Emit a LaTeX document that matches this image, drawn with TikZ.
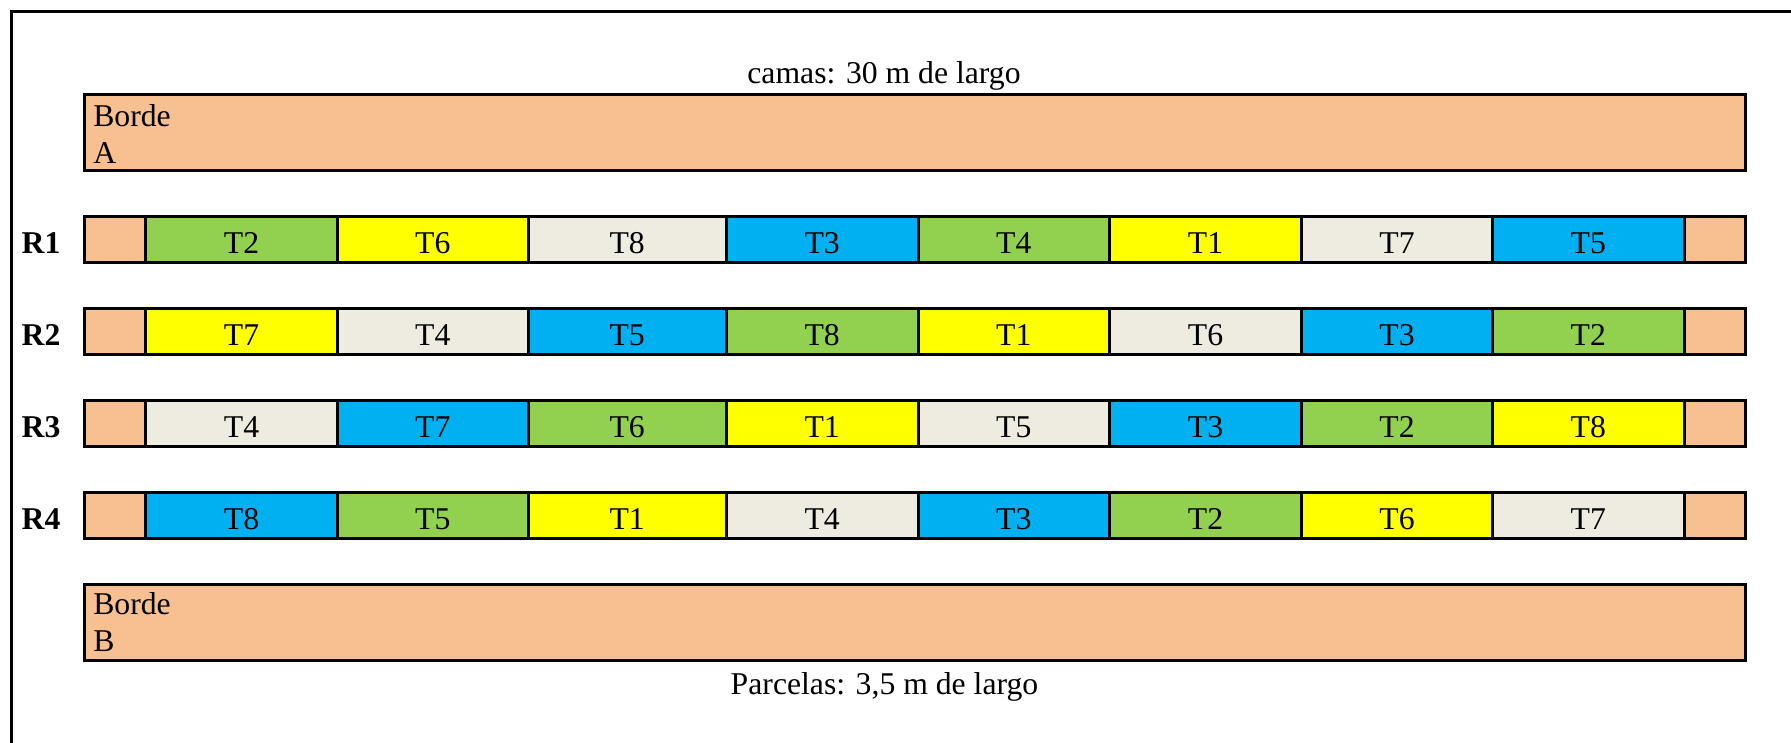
\documentclass[tikz,border=0pt]{standalone}
\usepackage{fontspec}
\setmainfont{Liberation Serif}
\definecolor{borde}{HTML}{F8C090}
\definecolor{grn}{HTML}{92D050}
\definecolor{yel}{HTML}{FFFF00}
\definecolor{bei}{HTML}{EEECE1}
\definecolor{blu}{HTML}{00B0F0}
\begin{document}
\begin{tikzpicture}[x=1pt,y=-1pt,
  txt/.style={font=\fontsize{31.7}{38}\selectfont},
  cell/.style={txt, draw=black, line width=3pt, inner sep=0pt, outer sep=0pt,
    anchor=north west, minimum height=46pt, text height=28pt, text depth=0pt},
  bigbox/.style={draw=black, fill=borde, line width=3pt, inner sep=0pt, outer sep=0pt,
    anchor=north west, minimum width=1661pt},
  plain/.style={txt, inner sep=0pt, outer sep=0pt},
  rlabel/.style={plain, font=\fontsize{31.7}{38}\selectfont\bfseries, anchor=base west},
]
\useasboundingbox (0,0) rectangle (1791,743);
% frame (cut off at right and bottom)
\coordinate (fbl) at (11.3,750);
\coordinate (ftl) at (11.3,11.7);
\coordinate (ftr) at (1800,11.7);
\draw[line width=3pt] (fbl) -- (ftl) -- (ftr);

\node[plain, anchor=base] (camas) at (884,83.5) {camas: 30 m de largo};

\node[bigbox, minimum height=76pt] (bordeA) at (84,95) {};
\node[plain, anchor=base west] (bordeAt1) at (93.3,126.5) {Borde};
\node[plain, anchor=base west] (bordeAt2) at (93.3,163.2) {A};

\def\xs{{84,145.7,337.3,528.3,726,918.3,1109.3,1301.7,1492.3,1684.3,1745}}
\foreach \r/\y/\cells in {
  1/216.3/{T2/grn,T6/yel,T8/bei,T3/blu,T4/grn,T1/yel,T7/bei,T5/blu},
  2/308.4/{T7/yel,T4/bei,T5/blu,T8/grn,T1/yel,T6/bei,T3/blu,T2/grn},
  3/400.5/{T4/bei,T7/blu,T6/grn,T1/yel,T5/bei,T3/blu,T2/grn,T8/yel},
  4/492.6/{T8/blu,T5/grn,T1/yel,T4/bei,T3/blu,T2/grn,T6/yel,T7/bei}}{
  \node[cell, fill=borde, minimum width=61.7pt] (r\r-c0) at (84,\y) {};
  \foreach \t/\c [count=\i] in \cells {
    \pgfmathsetmacro\xa{\xs[\i]}
    \pgfmathsetmacro\xb{\xs[\i+1]}
    \pgfmathsetmacro\w{\xb-\xa}
    \node[cell, fill=\c, minimum width=\w pt] (r\r-c\i) at (\xa,\y) {\t};
  }
  \node[cell, fill=borde, minimum width=60.7pt] (r\r-c9) at (1684.3,\y) {};
  \node[rlabel] (R\r) at (21.7,\y+37) {R\r};
}

\node[bigbox, minimum height=75.5pt] (bordeB) at (84,584.7) {};
\node[plain, anchor=base west] (bordeBt1) at (93.3,614.8) {Borde};
\node[plain, anchor=base west] (bordeBt2) at (93.3,651.5) {B};

\node[plain, anchor=base] (parcelas) at (884.5,694.5) {Parcelas: 3,5 m de largo};
\end{tikzpicture}
\end{document}
